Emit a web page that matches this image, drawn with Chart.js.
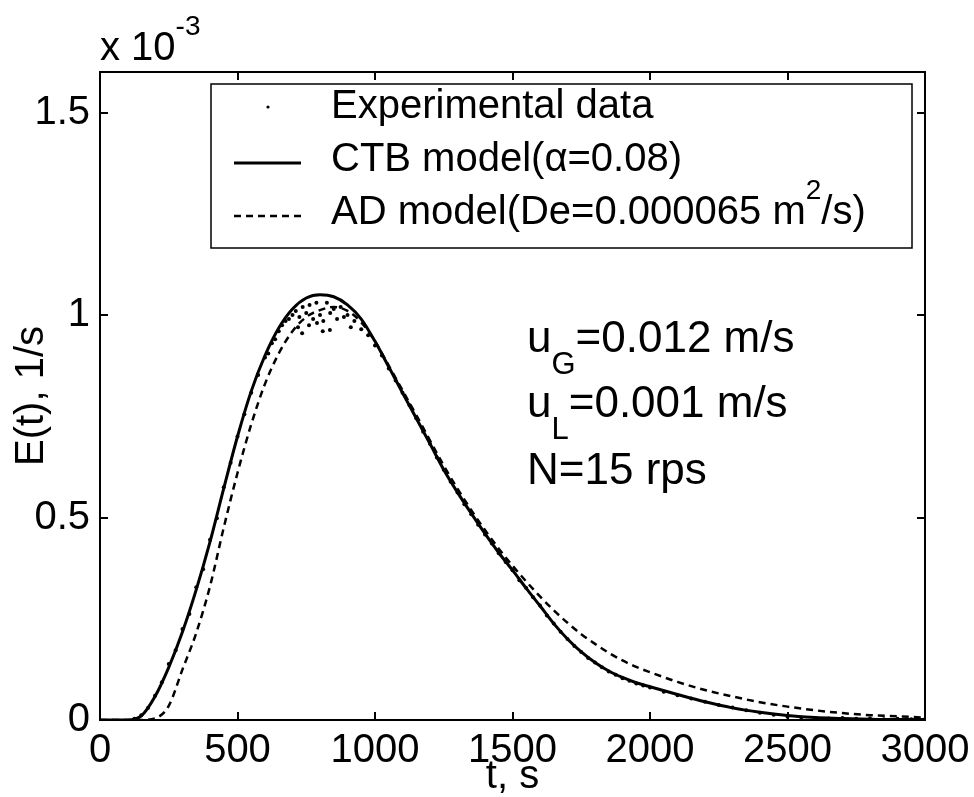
<!DOCTYPE html>
<html>
<head>
<meta charset="utf-8">
<title>E(t) curves</title>
<script src="https://cdn.jsdelivr.net/npm/chart.js@4.4.1/dist/chart.umd.min.js"></script>
<style>
  html, body { margin: 0; padding: 0; background: #fff; }
  #plot { display: block; }
</style>
</head>
<body>
<canvas id="plot" width="974" height="797"></canvas>
<script>
// values of E(t) are in units of 1e-3 1/s (axis shows "x 10^-3")
const xTicks = [0, 500, 1000, 1500, 2000, 2500, 3000];
const yTicks = [0, 0.5, 1, 1.5];

const modelTimes = [0, 50, 100, 150, 200, 250, 300, 350, 400, 450, 500, 550, 600, 650, 700, 750, 800, 850, 900, 950,
    1000, 1050, 1100, 1150, 1200, 1250, 1300, 1350, 1400, 1450, 1500, 1550, 1600, 1650, 1700, 1750, 1800, 1850, 1900, 1950,
    2000, 2100, 2200, 2300, 2400, 2500, 2600, 2700, 2800, 2900, 3000];
const ctbValues = [0, 0, 0, 0.01, 0.058, 0.13, 0.218, 0.322, 0.44, 0.572, 0.7, 0.812, 0.9, 0.968, 1.015, 1.042, 1.05, 1.045, 1.025, 0.99,
    0.935, 0.872, 0.808, 0.745, 0.682, 0.618, 0.562, 0.51, 0.46, 0.413, 0.37, 0.325, 0.282, 0.238, 0.2, 0.168, 0.142, 0.121, 0.105, 0.092,
    0.082, 0.063, 0.045, 0.03, 0.019, 0.011, 0.006, 0.004, 0.002, 0.001, 0.001];
const adValues = [0, 0, 0, 0, 0.004, 0.035, 0.125, 0.215, 0.33, 0.475, 0.61, 0.73, 0.83, 0.905, 0.96, 0.995, 1.012, 1.02, 1.01, 0.982,
    0.935, 0.875, 0.814, 0.753, 0.69, 0.628, 0.571, 0.518, 0.469, 0.423, 0.381, 0.342, 0.305, 0.271, 0.24, 0.212, 0.188, 0.166, 0.147, 0.131,
    0.118, 0.094, 0.074, 0.058, 0.044, 0.033, 0.024, 0.017, 0.012, 0.009, 0.006];

const expTimes = [125, 150, 175, 200, 225, 250, 275, 300, 325, 350, 375, 400, 425, 450, 475, 500, 525, 550, 575, 600,
    612, 625, 637, 650, 662, 675, 687, 700, 712, 725, 737, 750, 762, 775, 787, 800, 812, 825, 837, 850, 862, 875, 887, 900, 912, 925, 950, 975,
    735, 789, 836, 720, 760, 810,
    1000, 1025, 1050, 1075, 1100, 1125, 1150, 1175, 1200, 1225, 1250, 1275, 1300, 1325, 1350, 1375, 1400, 1425, 1450, 1475,
    1500, 1525, 1550, 1575, 1600, 1625, 1650, 1675, 1700, 1725, 1750, 1775, 1800, 1825, 1850, 1875, 1900, 1925, 1950, 1975,
    2000, 2050, 2100, 2150, 2200, 2250, 2300, 2350, 2400, 2450, 2500, 2550, 2600, 2650, 2700, 2750, 2800, 2850, 2900, 2950, 3000];
const expValues = [0.003, 0.012, 0.03, 0.06, 0.093, 0.138, 0.172, 0.225, 0.262, 0.328, 0.372, 0.445, 0.498, 0.575, 0.635, 0.7, 0.755, 0.808, 0.852, 0.895,
    0.905, 0.93, 0.94, 0.96, 0.975, 0.985, 0.99, 1.0, 1.01, 0.995, 1.02, 1.005, 1.025, 0.99, 1.03, 1.0, 0.985, 1.03, 1.005, 1.015, 0.99, 1.02, 0.995, 1.0, 0.97, 0.985, 0.965, 0.95,
    0.955, 0.98, 0.963, 0.97, 0.975, 0.96,
    0.925, 0.9, 0.868, 0.838, 0.808, 0.778, 0.745, 0.712, 0.682, 0.648, 0.618, 0.588, 0.562, 0.533, 0.508, 0.482, 0.458, 0.436, 0.412, 0.39,
    0.37, 0.345, 0.326, 0.303, 0.283, 0.258, 0.238, 0.218, 0.2, 0.183, 0.168, 0.153, 0.142, 0.13, 0.12, 0.112, 0.103, 0.097, 0.09, 0.085,
    0.08, 0.07, 0.061, 0.053, 0.045, 0.037, 0.031, 0.024, 0.018, 0.013, 0.008, 0.006, 0.005, 0.004, 0.005, 0.003, 0.004, 0.002, 0.003, 0.002, 0.002];

const FONT = '"Liberation Sans", Arial, sans-serif';
Chart.defaults.font.family = FONT;
Chart.defaults.color = '#000';

function toPoints(xs, ys) {
    return xs.map((x, i) => ({ x: x, y: ys[i] }));
}

// '_' and '^' lower or raise the next char (or {group}) in a smaller size
function drawRich(ctx, str, x, y, size) {
    let i = 0;
    while (i < str.length) {
        let piece = str[i], dy = 0, fs = size;
        if ((piece === '_' || piece === '^') && i + 1 < str.length) {
            dy = piece === '_' ? size * 0.5 : -size * 0.62;
            fs = Math.round(size * 0.7);
            if (str[i + 1] === '{') {
                const end = str.indexOf('}', i);
                piece = str.slice(i + 2, end);
                i = end + 1;
            } else {
                piece = str[i + 1];
                i += 2;
            }
        } else {
            i++;
        }
        ctx.font = fs + 'px ' + FONT;
        ctx.fillText(piece, x, y + dy);
        x += ctx.measureText(piece).width;
    }
}

const frame = {
    id: 'frame',
    afterDraw(chart) {
        const ctx = chart.ctx;
        const a = chart.chartArea;
        const xs = chart.scales.x, ys = chart.scales.y;
        ctx.save();
        ctx.strokeStyle = '#000';
        ctx.fillStyle = '#000';
        ctx.lineWidth = 2;
        ctx.strokeRect(a.left, a.top, a.right - a.left, a.bottom - a.top);
        const tl = 8;
        ctx.beginPath();
        xTicks.forEach(v => {
            const px = Math.round(xs.getPixelForValue(v));
            ctx.moveTo(px, a.bottom); ctx.lineTo(px, a.bottom - tl);
            ctx.moveTo(px, a.top); ctx.lineTo(px, a.top + tl);
        });
        yTicks.forEach(v => {
            const py = Math.round(ys.getPixelForValue(v));
            ctx.moveTo(a.left, py); ctx.lineTo(a.left + tl, py);
            ctx.moveTo(a.right, py); ctx.lineTo(a.right - tl, py);
        });
        ctx.stroke();

        // exponent label above the y axis
        ctx.textBaseline = 'alphabetic';
        ctx.textAlign = 'left';
        drawRich(ctx, 'x 10^{-3}', a.left, a.top - 12, 40);

        // legend box
        const lx = 211, ly = 84, lw = 701, lh = 164;
        ctx.fillStyle = '#fff';
        ctx.fillRect(lx, ly, lw, lh);
        ctx.lineWidth = 1.5;
        ctx.strokeRect(lx, ly, lw, lh);
        ctx.fillStyle = '#000';
        const rows = [118, 171, 224];
        chart.data.datasets.forEach((ds, k) => {
            const base = rows[k];
            const mid = base - 8;
            if (ds.showLine === false) {
                ctx.beginPath();
                ctx.arc(268, mid - 3, 1.6, 0, Math.PI * 2);
                ctx.fill();
            } else {
                ctx.beginPath();
                ctx.lineWidth = ds.borderWidth;
                ctx.setLineDash(ds.borderDash || []);
                ctx.moveTo(234, mid);
                ctx.lineTo(301, mid);
                ctx.stroke();
                ctx.setLineDash([]);
            }
            drawRich(ctx, ds.label, 331, base, 40);
        });

        // operating conditions
        drawRich(ctx, 'u_G=0.012 m/s', 527, 352, 44);
        drawRich(ctx, 'u_L=0.001 m/s', 527, 417, 44);
        drawRich(ctx, 'N=15 rps', 527, 484, 44);
        ctx.restore();
    }
};

new Chart(document.getElementById('plot').getContext('2d'), {
    type: 'line',
    data: {
        datasets: [{
            label: 'Experimental data',
            type: 'scatter',
            data: toPoints(expTimes, expValues),
            showLine: false,
            pointRadius: 2,
            pointBorderWidth: 0,
            pointBackgroundColor: '#000',
            borderColor: '#000'
        }, {
            label: 'CTB model(α=0.08)',
            data: toPoints(modelTimes, ctbValues),
            borderColor: '#000',
            borderWidth: 3,
            pointRadius: 0,
            cubicInterpolationMode: 'monotone',
            fill: false
        }, {
            label: 'AD model(De=0.000065 m^2/s)',
            data: toPoints(modelTimes, adValues),
            borderColor: '#000',
            borderWidth: 2.5,
            borderDash: [7, 5],
            pointRadius: 0,
            cubicInterpolationMode: 'monotone',
            fill: false
        }]
    },
    options: {
        responsive: false,
        animation: false,
        layout: { padding: { top: 72, right: 49, left: 0, bottom: 0 } },
        plugins: {
            legend: { display: false },
            tooltip: { enabled: false }
        },
        scales: {
            x: {
                type: 'linear',
                min: 0,
                max: 3000,
                afterFit: s => { s.height = 77; s.paddingRight = 0; },
                afterBuildTicks: s => { s.ticks = xTicks.map(v => ({ value: v })); },
                grid: { display: false, drawTicks: false },
                border: { display: false },
                ticks: { font: { size: 40 }, padding: 7, maxRotation: 0, autoSkip: false, callback: v => String(v) },
                title: { display: true, text: 't, s', font: { size: 40, lineHeight: 1 }, padding: 0 }
            },
            y: {
                type: 'linear',
                min: 0,
                max: 1.6,
                afterFit: s => { s.width = 100; },
                afterBuildTicks: s => { s.ticks = yTicks.map(v => ({ value: v })); },
                grid: { display: false, drawTicks: false },
                border: { display: false },
                ticks: { font: { size: 40 }, padding: 10, callback: v => String(v) },
                title: { display: true, text: 'E(t), 1/s', font: { size: 40, lineHeight: 1 }, padding: { top: 12, bottom: 0 } }
            }
        }
    },
    plugins: [frame]
});
</script>
</body>
</html>
